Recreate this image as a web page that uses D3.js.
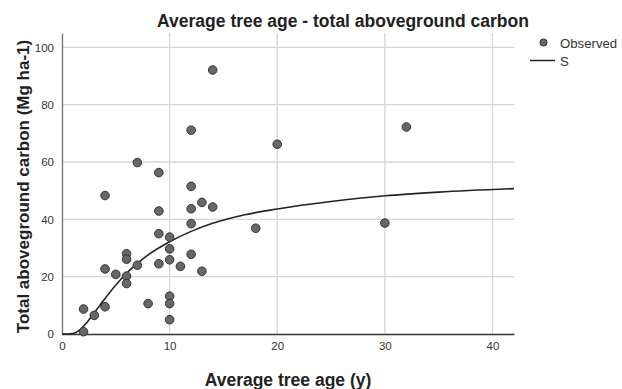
<!DOCTYPE html>
<html>
<head>
<meta charset="utf-8">
<script src="https://cdn.jsdelivr.net/npm/d3@7"></script>
<style>
  html, body { margin: 0; padding: 0; background: #fff; }
  svg { display: block; font-family: "Liberation Sans", Arial, sans-serif; }
</style>
</head>
<body>
<svg id="chart" width="622" height="389"></svg>
<script>
// Observed points (average tree age, total aboveground carbon)
const ageObserved = [2, 2, 3, 4, 4, 4, 5, 6, 6, 6, 6, 7, 7, 8, 9, 9, 9, 9, 10, 10, 10, 10, 10, 10, 11, 12, 12, 12, 12, 12, 13, 13, 14, 14, 18, 20, 30, 32];
const carbonObserved = [0.8, 8.7, 6.5, 9.5, 22.7, 48.3, 20.8, 28.0, 26.1, 20.2, 17.6, 24.0, 59.8, 10.6, 56.3, 42.9, 35.0, 24.5, 33.8, 29.7, 25.9, 13.2, 10.6, 5.0, 23.6, 71.1, 51.5, 43.7, 38.5, 27.8, 45.9, 21.9, 92.1, 44.3, 36.9, 66.2, 38.7, 72.2];

// S-curve fit
const ageFit = [0, 0.5, 1, 1.5, 2, 2.5, 3, 4, 5, 6, 7, 8, 10, 12, 14, 17, 20, 25, 30, 35, 42];
const carbonFit = [0, 0.0, 0.15, 1.0, 2.7, 4.9, 7.4, 12.4, 17.1, 21.2, 24.6, 27.6, 32.2, 35.8, 38.6, 41.6, 43.6, 46.2, 48.2, 49.5, 50.7];

const xTicks = [0, 10, 20, 30, 40];
const yTicks = [0, 20, 40, 60, 80, 100];

const titleText = "Average tree age - total aboveground carbon";
const xTitle = "Average tree age (y)";
const yTitle = "Total aboveground carbon (Mg ha-1)";
const legendLabels = ["Observed", "S"];

const svg = d3.select("#chart");
const mLeft = 62, mRight = 514, mTop = 33, mBottom = 334;

const x = d3.scaleLinear().domain([0, 42]).range([mLeft, mRight]);
const y = d3.scaleLinear().domain([0, 105]).range([mBottom, mTop]);

// gridlines
svg.append("g").selectAll("line").data(yTicks.filter(d => d > 0)).join("line")
  .attr("x1", mLeft).attr("x2", mRight)
  .attr("y1", d => y(d)).attr("y2", d => y(d))
  .attr("stroke", "#d6d6d6").attr("stroke-width", 1.3);
svg.append("g").selectAll("line").data(xTicks.filter(d => d > 0)).join("line")
  .attr("y1", mTop).attr("y2", mBottom)
  .attr("x1", d => x(d)).attr("x2", d => x(d))
  .attr("stroke", "#d6d6d6").attr("stroke-width", 1.3);

// axes
const xAxis = svg.append("g").attr("transform", `translate(0,${mBottom})`)
  .call(d3.axisBottom(x).tickValues(xTicks).tickSize(0).tickPadding(8));
xAxis.select(".domain").attr("stroke", "#333").attr("stroke-width", 1.4);
xAxis.selectAll("text").attr("font-size", 11.5).attr("fill", "#333")
  .attr("font-family", "'Liberation Sans', Arial, sans-serif");

const yAxis = svg.append("g").attr("transform", `translate(${mLeft},0)`)
  .call(d3.axisLeft(y).tickValues(yTicks).tickSize(0).tickPadding(8));
yAxis.select(".domain").attr("stroke", "#777").attr("stroke-width", 1.4);
yAxis.selectAll("text").attr("font-size", 11.5).attr("fill", "#333")
  .attr("font-family", "'Liberation Sans', Arial, sans-serif");

// fit curve
const line = d3.line().x(d => x(d[0])).y(d => y(d[1])).curve(d3.curveMonotoneX);
svg.append("path")
  .datum(ageFit.map((a, i) => [a, carbonFit[i]]))
  .attr("d", line)
  .attr("fill", "none").attr("stroke", "#222").attr("stroke-width", 1.6);

// points
svg.append("g").selectAll("circle").data(ageObserved.map((a, i) => [a, carbonObserved[i]])).join("circle")
  .attr("cx", d => x(d[0])).attr("cy", d => y(d[1])).attr("r", 4.3)
  .attr("fill", "#676767").attr("stroke", "#333").attr("stroke-width", 1);

// titles
svg.append("text").attr("x", 343).attr("y", 26.5).attr("text-anchor", "middle")
  .attr("font-size", 17.5).attr("font-weight", "bold").attr("fill", "#222").text(titleText);
svg.append("text").attr("x", (mLeft + mRight) / 2).attr("y", 386).attr("text-anchor", "middle")
  .attr("font-size", 17.5).attr("font-weight", "bold").attr("fill", "#222").text(xTitle);
svg.append("text").attr("transform", `translate(29,${(mTop + mBottom) / 2 + 3}) rotate(-90)`)
  .attr("text-anchor", "middle")
  .attr("font-size", 17).attr("font-weight", "bold").attr("fill", "#222").text(yTitle);

// legend
svg.append("circle").attr("cx", 543.5).attr("cy", 42.5).attr("r", 3.6)
  .attr("fill", "#676767").attr("stroke", "#333").attr("stroke-width", 1);
svg.append("line").attr("x1", 530).attr("x2", 555).attr("y1", 60.5).attr("y2", 60.5)
  .attr("stroke", "#222").attr("stroke-width", 1.5);
svg.append("g").selectAll("text").data(legendLabels).join("text")
  .attr("x", 560).attr("y", (d, i) => 47.5 + i * 18)
  .attr("font-size", 13.2).attr("fill", "#333").text(d => d);
</script>
</body>
</html>
